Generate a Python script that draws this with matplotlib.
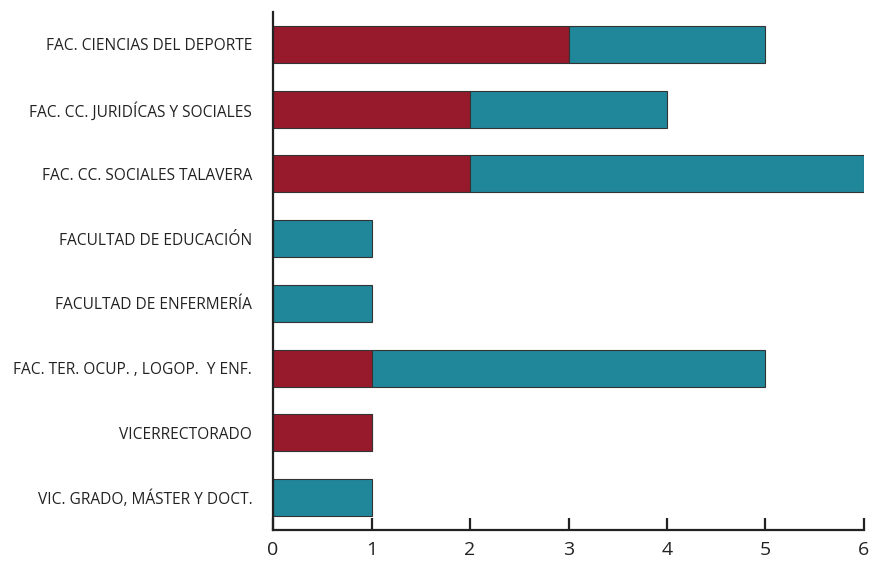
import numpy as np
import matplotlib.pyplot as plt

plt.rcParams['font.family'] = ['Open Sans', 'DejaVu Sans']

categories = ["FAC. CIENCIAS DEL DEPORTE",
              "FAC. CC. JURIDÍCAS Y SOCIALES",
              "FAC. CC. SOCIALES TALAVERA",
              "FACULTAD DE EDUCACIÓN",
              "FACULTAD DE ENFERMERÍA",
              "FAC. TER. OCUP. , LOGOP.  Y ENF.",
              "VICERRECTORADO",
              "VIC. GRADO, MÁSTER Y DOCT."]
red_vals = [3, 2, 2, 0, 0, 1, 1, 0]
teal_vals = [2, 2, 4, 1, 1, 4, 0, 1]
xticks = [0, 1, 2, 3, 4, 5, 6]

red = '#961a2c'
teal = '#1f8799'

fig = plt.figure(figsize=(8.7, 5.63), dpi=100)
ax = fig.add_axes([0.3138, 0.0586, 0.6793, 0.9201])

y = np.arange(len(categories))[::-1]
h = 0.57
ax.barh(y, red_vals, height=h, color=red, edgecolor='#333333', linewidth=0.8)
ax.barh(y, teal_vals, left=red_vals, height=h, color=teal, edgecolor='#333333', linewidth=0.8)

ax.set_ylim(-0.5, 7.5)
ax.set_xlim(0, 6)
ax.set_yticks(y)
ax.set_yticklabels(categories, fontsize=11.2, color='#222222')
ax.set_xticks(xticks)
ax.set_xticklabels([str(t) for t in xticks], fontsize=14, color='#222222')
ax.tick_params(axis='y', length=0, pad=15)
ax.tick_params(axis='x', direction='in', length=9, width=1.6, color='#222222', pad=8)
for s in ['top', 'right']:
    ax.spines[s].set_visible(False)
for s in ['left', 'bottom']:
    ax.spines[s].set_linewidth(1.6)
    ax.spines[s].set_color('#222222')

fig.savefig('out.png', dpi=100)
